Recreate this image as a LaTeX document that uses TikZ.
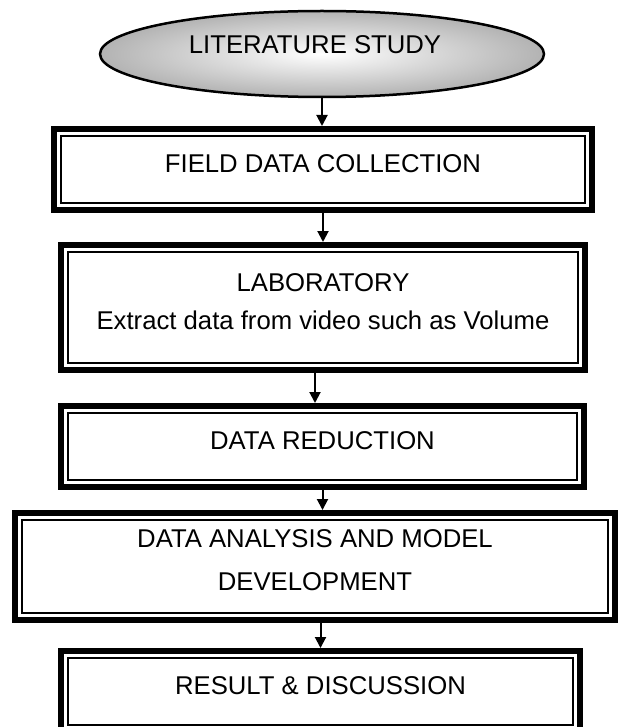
\documentclass[tikz,border=0pt]{standalone}
\usepackage{fontspec}
\setmainfont{Liberation Sans}
\usetikzlibrary{shapes.geometric,arrows.meta}
\tikzset{
	stagebox/.style={draw,line width=6pt,inner sep=0pt,align=center,text depth=12pt,
		font=\fontsize{25.7}{38}\selectfont},
	flow/.style={->,line width=2pt},
}
\begin{document}
\begin{tikzpicture}[x=1pt,y=-1pt,line cap=butt,line join=miter,>={Triangle[length=11pt,width=11pt]}]
	\useasboundingbox (0,0) rectangle (620,727);
	\node[ellipse,draw,line width=2.5pt,inner color=white,outer color=gray!60,
		minimum width=444pt,minimum height=86pt,inner sep=0pt] (lit) at (322,54) {};
	\node[font=\fontsize{25.7}{30}\selectfont,inner sep=0pt] (littext) at (315,45) {LITERATURE STUDY};
	\node[stagebox,minimum width=538pt,minimum height=81pt] (field) at (323,169.5) {FIELD DATA COLLECTION};
	\node[stagebox,minimum width=524pt,minimum height=125pt] (lab) at (323,307.5)
		{LABORATORY\\Extract data from video such as Volume};
	\node[stagebox,minimum width=523pt,minimum height=81pt] (red) at (322.5,446.5) {DATA REDUCTION};
	\node[stagebox,minimum width=600pt,minimum height=107pt,font=\fontsize{25.7}{43}\selectfont] (ana) at (315,566.5)
		{DATA ANALYSIS AND MODEL\\DEVELOPMENT};
	\node[stagebox,minimum width=519pt,minimum height=81pt] (res) at (320.5,691.5) {RESULT \& DISCUSSION};
	\foreach \b in {field,lab,red,ana,res}{
		\draw[line width=1.5pt] ([shift={(10pt,-10pt)}]\b.north west) rectangle ([shift={(-10pt,10pt)}]\b.south east);
	}
	\draw[flow] (lit.south) -- (lit.south |- field.north);
	\draw[flow] (field.south) -- (field.south |- lab.north);
	\draw[flow] ([xshift=-8pt]lab.south) -- ([xshift=-8pt]lab.south |- red.north);
	\draw[flow] (red.south) -- (red.south |- ana.north);
	\draw[flow] (res.north |- ana.south) -- (res.north);
\end{tikzpicture}
\end{document}
